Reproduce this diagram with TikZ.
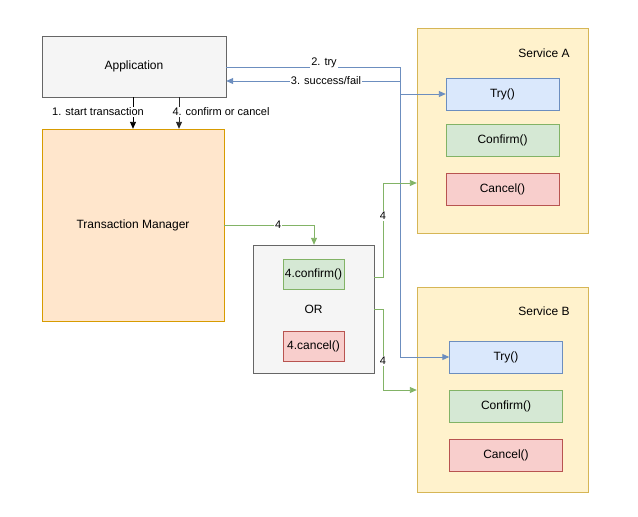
\documentclass[tikz,border=0pt]{standalone}
\usepackage{fontspec}
\setmainfont{Liberation Sans}
\usetikzlibrary{arrows.meta}
\definecolor{grayfill}{HTML}{F5F5F5}
\definecolor{grayline}{HTML}{666666}
\definecolor{orfill}{HTML}{FFE6CC}
\definecolor{orline}{HTML}{D79B00}
\definecolor{yfill}{HTML}{FFF2CC}
\definecolor{yline}{HTML}{D6B656}
\definecolor{bfill}{HTML}{DAE8FC}
\definecolor{bline}{HTML}{6C8EBF}
\definecolor{gfill}{HTML}{D5E8D4}
\definecolor{gline}{HTML}{82B366}
\definecolor{rfill}{HTML}{F8CECC}
\definecolor{rline}{HTML}{B85450}
\tikzset{
  box/.style={draw, rectangle, inner sep=0pt, font=\fontsize{12}{14}\selectfont},
  graybox/.style={box, fill=grayfill, draw=grayline},
  trybox/.style={box, fill=bfill, draw=bline, minimum width=113pt, minimum height=32pt},
  confbox/.style={box, fill=gfill, draw=gline, minimum width=113pt, minimum height=32pt},
  cancbox/.style={box, fill=rfill, draw=rline, minimum width=113pt, minimum height=32pt},
  svc/.style={box, fill=yfill, draw=yline, minimum width=171pt, minimum height=205pt},
  lbl/.style={font=\fontsize{11}{13}\selectfont, fill=white, inner sep=1pt},
  txt/.style={font=\fontsize{12}{14}\selectfont},
  arr/.style={-{Triangle[length=7pt,width=6pt]}},
  blue/.style={draw=bline, line width=0.9pt},
  green/.style={draw=gline, line width=0.9pt},
}
\begin{document}
\begin{tikzpicture}[x=1pt,y=-1pt]
\useasboundingbox (0,0) rectangle (638,517);
% containers
\node[graybox, minimum width=184pt, minimum height=61pt] (app) at (134,66.5) {Application};
\node[box, fill=orfill, draw=orline, minimum width=182pt, minimum height=192pt] (tm) at (133,225) {Transaction Manager};
\node[svc] (sa) at (502.5,131) {};
\node[svc] (sb) at (502.5,390) {};
\node[txt] (sat) at (544,53) {Service A};
\node[txt] (sbt) at (544,311) {Service B};
\node[trybox] (tryA) at (502.5,94) {Try()};
\node[confbox] (confA) at (502.5,140) {Confirm()};
\node[cancbox] (cancA) at (502.5,189) {Cancel()};
\node[trybox] (tryB) at (506,357) {Try()};
\node[confbox] (confB) at (506,406) {Confirm()};
\node[cancbox] (cancB) at (506,455) {Cancel()};
% middle box
\node[graybox, minimum width=121pt, minimum height=128pt] (mid) at (313.5,309) {};
\node[box, fill=gfill, draw=gline, minimum width=61pt, minimum height=30pt] (mc) at (313.5,274) {4.confirm()};
\node[txt] (or) at (313.5,309) {OR};
\node[box, fill=rfill, draw=rline, minimum width=61pt, minimum height=30pt] (mx) at (313.5,346) {4.cancel()};
% coordinates
\coordinate (j1) at (400,67);
\coordinate (j2) at (400,94);
\coordinate (j3) at (400,357);
% try arrows
\draw[blue, arr] (app.east |- j1) -- (j1) -- (j2) -- (tryA.west);
\node[lbl] (l2) at (324,63) {2. try};
\draw[blue, arr] (j2) -- (j3) -- (tryB.west);
\draw[blue, arr] (400,81) coordinate (j4) -- (j4 -| app.east);
\node[lbl] (l3) at (326,81) {3. success/fail};
% start / confirm arrows
\draw[arr, line width=0.9pt] (app.south -| 133,0) -- (tm.north -| 133,0);
\node[lbl] (l1) at (98,112) {1. start transaction};
\draw[arr, line width=0.9pt, draw=black!85] (app.south -| 179,0) -- (tm.north -| 179,0);
\node[lbl] (l4) at (221,112) {4. confirm or cancel};
% TM to middle
\coordinate (k1) at (314,225);
\draw[green, arr] (tm.east |- k1) -- node[lbl, pos=0.6] {4} (k1) -- (mid.north -| k1);
% middle to services
\coordinate (m1) at (383,277);
\coordinate (m2) at (383,183);
\draw[green, arr] (mid.east |- m1) -- (m1) -- (m2) -- (sa.west |- m2);
\node[lbl] (l5) at (383,216) {4};
\coordinate (n1) at (383,309);
\coordinate (n2) at (383,390);
\draw[green, arr] (mid.east |- n1) -- (n1) -- (n2) -- (sb.west |- n2);
\node[lbl] (l6) at (383,361) {4};
\end{tikzpicture}
\end{document}
